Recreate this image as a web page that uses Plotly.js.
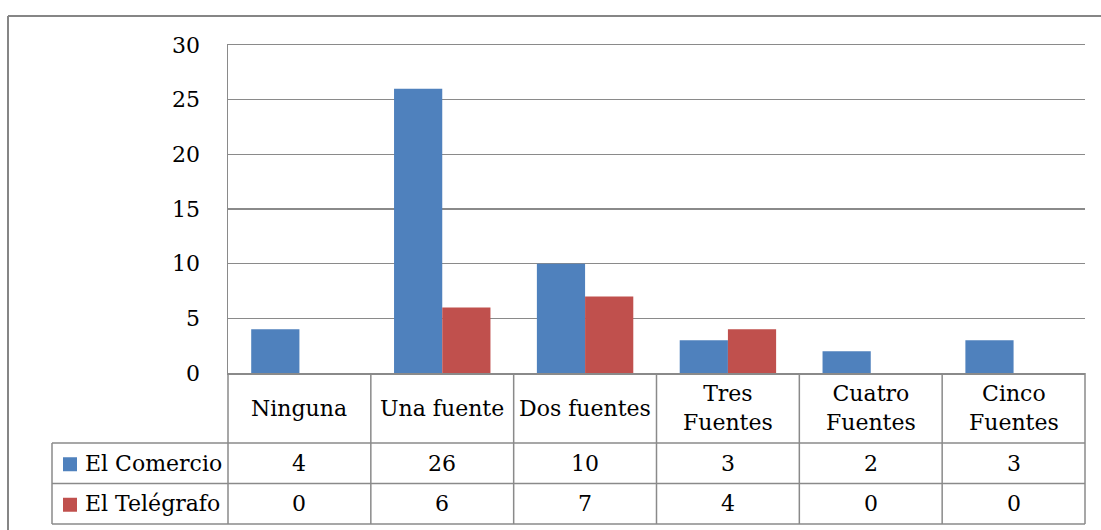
<!DOCTYPE html>
<html>
<head>
<meta charset="utf-8">
<script src="https://cdn.plot.ly/plotly-3.0.1.min.js"></script>
<style>html,body{margin:0;padding:0;background:#fff;}#chart{width:1101px;height:530px;}</style>
</head>
<body>
<div id="chart"></div>
<script>
// ---- data ----
const categories = ["Ninguna", "Una fuente", "Dos fuentes", "Tres<br>Fuentes", "Cuatro<br>Fuentes", "Cinco<br>Fuentes"];
const seriesNames = ["El Comercio", "El Telégrafo"];
const elComercio = [4, 26, 10, 3, 2, 3];
const elTelegrafo = [0, 6, 7, 4, 0, 0];
const yTicks = [0, 5, 10, 15, 20, 25, 30];

// ---- layout geometry (pixels) ----
const W = 1101, H = 530;
const L = 228, R = 1085, T = 45, B = 373;
const colors = ["#4F81BD", "#C0504D"];
const lineCol = "#8a8a8a";
const FONT = "DejaVu Serif";
const FS = 22;

const px = x => (x - L) / (R - L);
const py = y => (B - y) / (B - T);

const seriesVals = [elComercio, elTelegrafo];
const traces = seriesVals.map((vals, i) => ({
  type: "bar",
  name: seriesNames[i],
  x: categories,
  y: vals,
  marker: {color: colors[i], line: {width: 0}},
  hoverinfo: "none"
}));

const shapes = [];
const annotations = [];
function line(x0, y0, x1, y1, w, c) {
  shapes.push({type: "line", xref: "paper", yref: "paper",
    x0: px(x0), y0: py(y0), x1: px(x1), y1: py(y1),
    line: {color: c || lineCol, width: w || 1.5}});
}
// outer chart border (only top/left visible)
line(8, 16, 1110, 16, 2, "#868686");
line(8, 16, 8, 545, 2, "#868686");

// table rows
const rowTop = 443, rowMid = 483.5, rowBot = 524, tableLeft = 52;
line(tableLeft, rowTop, R, rowTop);
line(tableLeft, rowMid, R, rowMid);
line(tableLeft, rowBot, R, rowBot);
line(tableLeft, rowTop, tableLeft, rowBot);
const n = categories.length;
for (let i = 0; i <= n; i++) {
  const xb = L + (R - L) * i / n;
  line(xb, B, xb, rowBot);
}
// category labels and values
const rowCenters = [(rowTop + rowMid) / 2, (rowMid + rowBot) / 2];
categories.forEach((c, i) => {
  const xc = (i + 0.5) / n;
  annotations.push({xref: "paper", yref: "paper", x: xc, y: py((B + rowTop) / 2),
    text: c, showarrow: false, xanchor: "center", yanchor: "middle",
    font: {family: FONT, size: FS, color: "#000"}});
  seriesVals.forEach((vals, s) => {
    annotations.push({xref: "paper", yref: "paper", x: xc, y: py(rowCenters[s]),
      text: String(vals[i]), showarrow: false, xanchor: "center", yanchor: "middle",
      font: {family: FONT, size: FS, color: "#000"}});
  });
});
// legend keys + series names
seriesNames.forEach((nm, s) => {
  const yc = rowCenters[s];
  shapes.push({type: "rect", xref: "paper", yref: "paper",
    x0: px(63), x1: px(77), y0: py(yc - 6), y1: py(yc + 8),
    fillcolor: colors[s], line: {width: 0}});
  annotations.push({xref: "paper", yref: "paper", x: px(83), y: py(yc),
    text: nm, showarrow: false, xanchor: "left", yanchor: "middle",
    font: {family: FONT, size: FS, color: "#000"}});
});

const layout = {
  width: W, height: H,
  margin: {l: L, r: W - R, t: T, b: H - B, pad: 0},
  paper_bgcolor: "#fff", plot_bgcolor: "#fff",
  showlegend: false,
  barmode: "group", bargap: 0.325, bargroupgap: 0,
  font: {family: FONT, size: FS, color: "#000"},
  xaxis: {type: "category", showticklabels: false, ticks: "", showgrid: false,
    showline: true, mirror: true, linecolor: lineCol, linewidth: 1.5, zeroline: false, fixedrange: true},
  yaxis: {range: [0, 30], tickvals: yTicks, ticktext: yTicks.map(String),
    showgrid: true, gridcolor: lineCol, gridwidth: 1.5, showline: true, linecolor: lineCol,
    linewidth: 1.5, zeroline: false, ticks: "", ticklabelstandoff: 22,
    tickfont: {family: FONT, size: FS, color: "#000"}, fixedrange: true},
  shapes: shapes,
  annotations: annotations
};
Plotly.newPlot("chart", traces, layout, {displayModeBar: false, staticPlot: true});
</script>
</body>
</html>
